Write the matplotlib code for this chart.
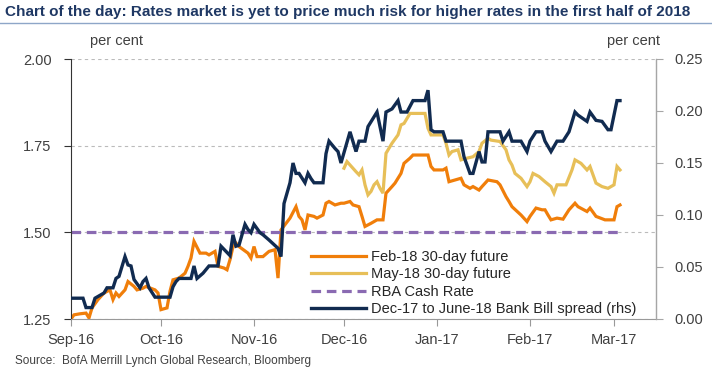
import matplotlib
matplotlib.use('Agg')
import matplotlib.pyplot as plt
import matplotlib.dates as mdates
from matplotlib.lines import Line2D
import pandas as pd

plt.rcParams['font.family'] = ['Liberation Sans', 'DejaVu Sans']

# Feb-18 30-day future (lhs, per cent)
feb_dates = ['2016-09-01', '2016-09-02', '2016-09-04', '2016-09-06', '2016-09-07', '2016-09-08', '2016-09-10',
             '2016-09-12', '2016-09-14', '2016-09-15', '2016-09-16', '2016-09-17', '2016-09-19', '2016-09-20',
             '2016-09-22', '2016-09-23', '2016-09-25', '2016-09-26', '2016-09-29', '2016-09-30',
             '2016-10-01', '2016-10-03', '2016-10-04', '2016-10-05', '2016-10-07', '2016-10-09', '2016-10-10',
             '2016-10-11', '2016-10-12', '2016-10-14', '2016-10-16', '2016-10-17', '2016-10-19', '2016-10-20',
             '2016-10-22', '2016-10-23', '2016-10-24', '2016-10-25', '2016-10-26', '2016-10-27', '2016-10-30',
             '2016-10-31',
             '2016-11-01', '2016-11-02', '2016-11-04', '2016-11-06', '2016-11-08', '2016-11-09', '2016-11-10',
             '2016-11-13', '2016-11-15', '2016-11-16', '2016-11-17', '2016-11-18', '2016-11-19', '2016-11-21',
             '2016-11-22', '2016-11-24', '2016-11-25', '2016-11-26', '2016-11-28', '2016-11-30',
             '2016-12-01', '2016-12-03', '2016-12-04', '2016-12-06', '2016-12-07', '2016-12-08', '2016-12-10',
             '2016-12-12', '2016-12-14', '2016-12-15', '2016-12-17', '2016-12-18', '2016-12-20', '2016-12-21',
             '2016-12-23', '2016-12-24', '2016-12-29', '2016-12-30', '2016-12-31',
             '2017-01-03', '2017-01-04', '2017-01-05', '2017-01-07', '2017-01-09', '2017-01-10', '2017-01-12',
             '2017-01-13', '2017-01-15', '2017-01-16', '2017-01-18', '2017-01-21', '2017-01-22', '2017-01-24',
             '2017-01-25', '2017-01-26', '2017-01-29', '2017-01-31',
             '2017-02-01', '2017-02-03', '2017-02-05', '2017-02-06', '2017-02-07', '2017-02-08', '2017-02-10',
             '2017-02-12', '2017-02-14', '2017-02-16', '2017-02-17', '2017-02-20', '2017-02-21', '2017-02-23',
             '2017-02-26', '2017-03-01', '2017-03-02', '2017-03-03']
feb_values = [1.250, 1.262, 1.265, 1.267, 1.253, 1.282, 1.306, 1.325, 1.334, 1.306, 1.325, 1.315, 1.334, 1.358,
              1.344, 1.334, 1.339, 1.344, 1.334, 1.325,
              1.277, 1.282, 1.330, 1.363, 1.368, 1.382, 1.402, 1.426, 1.474, 1.440, 1.440, 1.435, 1.445, 1.402,
              1.397, 1.392, 1.421, 1.459, 1.469, 1.459, 1.440, 1.426,
              1.459, 1.430, 1.430, 1.445, 1.450, 1.368, 1.507, 1.541, 1.574, 1.546, 1.536, 1.507, 1.550, 1.546,
              1.541, 1.550, 1.584, 1.589, 1.579, 1.584,
              1.584, 1.589, 1.579, 1.574, 1.546, 1.517, 1.526, 1.536, 1.536, 1.613, 1.632, 1.642, 1.670, 1.699,
              1.714, 1.723, 1.723, 1.690, 1.680,
              1.680, 1.685, 1.646, 1.651, 1.656, 1.637, 1.627, 1.632, 1.622, 1.632, 1.651, 1.646, 1.637, 1.603,
              1.589, 1.574, 1.550, 1.531,
              1.546, 1.570, 1.565, 1.565, 1.550, 1.536, 1.541, 1.538, 1.565, 1.584, 1.574, 1.560, 1.570, 1.546,
              1.536, 1.536, 1.574, 1.579]

# May-18 30-day future (lhs, per cent)
may_dates = ['2016-12-01', '2016-12-02', '2016-12-05', '2016-12-06', '2016-12-07', '2016-12-08', '2016-12-09',
             '2016-12-10', '2016-12-11', '2016-12-12', '2016-12-13', '2016-12-14', '2016-12-15', '2016-12-17',
             '2016-12-19', '2016-12-20', '2016-12-21', '2016-12-23', '2016-12-28', '2016-12-29', '2016-12-30',
             '2017-01-03', '2017-01-04', '2017-01-05', '2017-01-06', '2017-01-08', '2017-01-09', '2017-01-11',
             '2017-01-13', '2017-01-15', '2017-01-16', '2017-01-18', '2017-01-19', '2017-01-22', '2017-01-24',
             '2017-01-25', '2017-01-26', '2017-01-27', '2017-01-29', '2017-01-31',
             '2017-02-01', '2017-02-02', '2017-02-04', '2017-02-06', '2017-02-08', '2017-02-09', '2017-02-10',
             '2017-02-13', '2017-02-15', '2017-02-16', '2017-02-18', '2017-02-20', '2017-02-21', '2017-02-22',
             '2017-02-23', '2017-02-25', '2017-02-27', '2017-03-01', '2017-03-02', '2017-03-03']
may_values = [1.685, 1.704, 1.675, 1.666, 1.680, 1.637, 1.608, 1.618, 1.637, 1.646, 1.627, 1.613, 1.728, 1.757,
              1.781, 1.810, 1.814, 1.843, 1.843, 1.800, 1.781,
              1.781, 1.757, 1.723, 1.733, 1.738, 1.709, 1.714, 1.718, 1.733, 1.757, 1.771, 1.766, 1.762, 1.738,
              1.709, 1.694, 1.670, 1.656, 1.632,
              1.646, 1.670, 1.661, 1.646, 1.632, 1.613, 1.637, 1.637, 1.680, 1.709, 1.699, 1.680, 1.690, 1.666,
              1.642, 1.632, 1.627, 1.637, 1.690, 1.680]

# RBA cash rate (lhs, per cent)
rba_dates = ['2016-09-01', '2017-03-03']
rba_values = [1.50, 1.50]

# Dec-17 to June-18 bank bill spread (rhs, per cent)
spread_dates = ['2016-09-01', '2016-09-05', '2016-09-06', '2016-09-08', '2016-09-09', '2016-09-12', '2016-09-13',
                '2016-09-15', '2016-09-16', '2016-09-17', '2016-09-19', '2016-09-20', '2016-09-21', '2016-09-22',
                '2016-09-24', '2016-09-25', '2016-09-26', '2016-09-27', '2016-09-29',
                '2016-10-04', '2016-10-05', '2016-10-06', '2016-10-07', '2016-10-11', '2016-10-12', '2016-10-13',
                '2016-10-15', '2016-10-17', '2016-10-20', '2016-10-21', '2016-10-22', '2016-10-24', '2016-10-25',
                '2016-10-26', '2016-10-27', '2016-10-29', '2016-10-30', '2016-10-31',
                '2016-11-01', '2016-11-03', '2016-11-04', '2016-11-06', '2016-11-09', '2016-11-10', '2016-11-11',
                '2016-11-13', '2016-11-14', '2016-11-15', '2016-11-16', '2016-11-18', '2016-11-19', '2016-11-20',
                '2016-11-21', '2016-11-24', '2016-11-25', '2016-11-26', '2016-11-28', '2016-11-29', '2016-11-30',
                '2016-12-03', '2016-12-05', '2016-12-06', '2016-12-08', '2016-12-09', '2016-12-12', '2016-12-14',
                '2016-12-15', '2016-12-17', '2016-12-19', '2016-12-20', '2016-12-22', '2016-12-24', '2016-12-28',
                '2016-12-29', '2016-12-30', '2016-12-31',
                '2017-01-03', '2017-01-04', '2017-01-09', '2017-01-10', '2017-01-12', '2017-01-13', '2017-01-15',
                '2017-01-16', '2017-01-17', '2017-01-18', '2017-01-22', '2017-01-23', '2017-01-25', '2017-01-26',
                '2017-01-29', '2017-01-31',
                '2017-02-01', '2017-02-03', '2017-02-05', '2017-02-06', '2017-02-08', '2017-02-10', '2017-02-12',
                '2017-02-14', '2017-02-16', '2017-02-17', '2017-02-20', '2017-02-21', '2017-02-23', '2017-02-25',
                '2017-02-27', '2017-02-28', '2017-03-02', '2017-03-03']
spread_values = [0.020, 0.020, 0.011, 0.011, 0.020, 0.025, 0.030, 0.030, 0.039, 0.041, 0.060, 0.052, 0.051,
                 0.038, 0.030, 0.036, 0.039, 0.030, 0.021,
                 0.021, 0.031, 0.036, 0.039, 0.039, 0.051, 0.039, 0.044, 0.051, 0.051, 0.070, 0.067, 0.061,
                 0.081, 0.070, 0.071, 0.091, 0.086, 0.083,
                 0.091, 0.083, 0.081, 0.076, 0.068, 0.060, 0.111, 0.131, 0.150, 0.140, 0.140, 0.131, 0.140,
                 0.135, 0.131, 0.131, 0.159, 0.171, 0.164, 0.161, 0.150,
                 0.180, 0.161, 0.171, 0.171, 0.185, 0.199, 0.171, 0.199, 0.202, 0.210, 0.199, 0.199, 0.210,
                 0.210, 0.220, 0.182, 0.180,
                 0.180, 0.171, 0.171, 0.156, 0.140, 0.140, 0.161, 0.151, 0.151, 0.180, 0.180, 0.171, 0.180,
                 0.171, 0.171, 0.161,
                 0.171, 0.180, 0.180, 0.171, 0.161, 0.171, 0.171, 0.180, 0.199, 0.196, 0.190, 0.199, 0.191,
                 0.190, 0.182, 0.182, 0.210, 0.210]

left_ticks = [1.25, 1.50, 1.75, 2.00]
right_ticks = [0.00, 0.05, 0.10, 0.15, 0.20, 0.25]

title = 'Chart of the day: Rates market is yet to price much risk for higher rates in the first half of 2018'
source = 'Source:  BofA Merrill Lynch Global Research, Bloomberg'

ORANGE = '#F07E0A'
YELLOW = '#E7BF58'
PURPLE = '#8A6AB2'
NAVY = '#112B50'
GREY = '#404040'

fig = plt.figure(figsize=(7.12, 3.68), dpi=100)
ax = fig.add_axes([71 / 712, 1 - 319 / 368, 585 / 712, 260 / 368])
ax2 = ax.twinx()

l1, = ax.plot(pd.to_datetime(feb_dates), feb_values, color=ORANGE, lw=2.3,
              label='Feb-18 30-day future', solid_joinstyle='miter')
l2, = ax.plot(pd.to_datetime(may_dates), may_values, color=YELLOW, lw=2.3,
              label='May-18 30-day future', solid_joinstyle='miter')
l3, = ax.plot(pd.to_datetime(rba_dates), rba_values, color=PURPLE, lw=2.3,
              linestyle=(0, (3, 1.8)), label='RBA Cash Rate')
l4, = ax2.plot(pd.to_datetime(spread_dates), spread_values, color=NAVY, lw=2.4,
               label='Dec-17 to June-18 Bank Bill spread (rhs)', solid_joinstyle='miter')

ax.set_xlim(pd.Timestamp('2016-09-01'), pd.Timestamp('2017-03-15'))
ax.set_ylim(1.25, 2.00)
ax2.set_ylim(0.0, 0.25)
ax.set_yticks(left_ticks)
ax.set_yticklabels(['%.2f' % v for v in left_ticks])
ax2.set_yticks(right_ticks)
ax2.set_yticklabels(['%.2f' % v for v in right_ticks])

ax.xaxis.set_major_locator(mdates.MonthLocator())
ax.xaxis.set_major_formatter(mdates.DateFormatter('%b-%y'))

ax.grid(axis='y', color='#BBBBBB', linestyle=(0, (3, 3)), lw=0.8)
ax.set_axisbelow(True)

for a in (ax, ax2):
    a.spines['top'].set_visible(False)
ax.spines['left'].set_color('#333333')
ax.spines['bottom'].set_color('#999999')
ax2.spines['right'].set_color('#A6A6A6')
ax2.spines['left'].set_visible(False)
ax2.spines['bottom'].set_visible(False)

ax.tick_params(axis='y', length=5, pad=9, labelsize=10.5, colors=GREY, color='#333333')
ax.tick_params(axis='x', length=5, pad=5, labelsize=10.5, colors=GREY, color='#999999')
ax2.tick_params(axis='y', length=5, pad=8, labelsize=10.5, colors=GREY, color='#A6A6A6')

leg = ax.legend(handles=[l1, l2, l3, l4], loc='lower left', bbox_to_anchor=(0.405, 0.0),
                frameon=False, fontsize=10.5, handlelength=3.8, handletextpad=0.3,
                labelspacing=0.23, borderpad=0.2, borderaxespad=0)
for t in leg.get_texts():
    t.set_color('#262626')

fig.text(0.007, 1 - 12 / 368, title, fontsize=11, fontweight='bold', color='#1F3864',
         va='center', ha='left')
fig.add_artist(Line2D([0, 1], [1 - 23 / 368] * 2, transform=fig.transFigure, color='#8EA6C8', lw=1))

fig.text(90 / 712, 1 - 41 / 368, 'per cent', fontsize=10.5, color=GREY, va='center', ha='left')
fig.text(660 / 712, 1 - 41 / 368, 'per cent', fontsize=10.5, color=GREY, va='center', ha='right')
fig.text(15 / 712, 1 / 368, source, fontsize=8.5, color=GREY, va='bottom', ha='left')

fig.savefig('out.png', dpi=100)
